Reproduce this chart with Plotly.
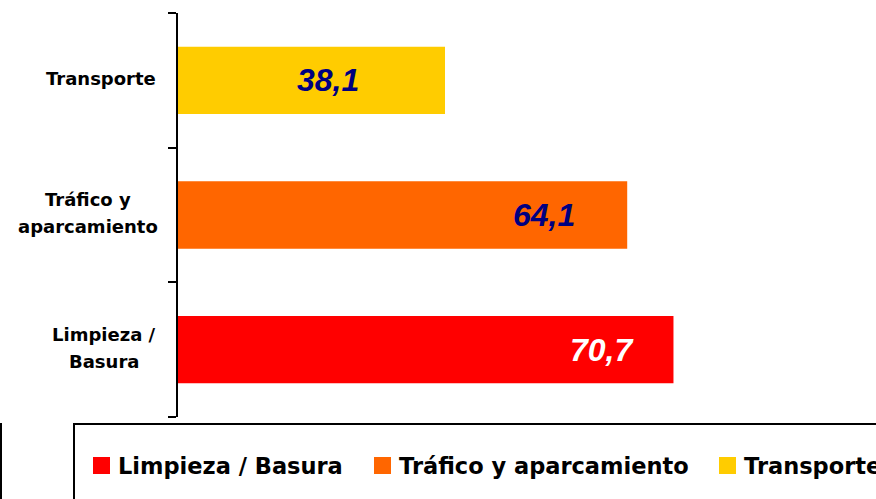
import plotly.graph_objects as go

# ---- data ----
categories = ["Limpieza / Basura", "Tráfico y aparcamiento", "Transporte"]
axis_label_lines = [["Limpieza /", "Basura"], ["Tráfico y", "aparcamiento"], ["Transporte"]]
values = [70.7, 64.1, 38.1]
value_labels = ["70,7", "64,1", "38,1"]

# ---- style ----
bar_colors = ["#FF0000", "#FF6600", "#FFCC00"]
label_colors = ["#FFFFFF", "#000080", "#000080"]
label_center_gap_px = [71, 83.5, 117.5]   # distance from bar end to label centre
axis_label_center_px = [104, 87.5, 101]
legend_square_px = [93, 374, 719]

W_FIG, H_FIG = 876, 499
L, T, R, B = 178, 13, 0, 82
PW, PH = W_FIG - L - R, H_FIG - T - B


def px_x(px):
    return (px - L) / PW


def px_y(py):
    return (T + PH - py) / PH


fig = go.Figure()
fig.add_trace(go.Bar(
    y=categories, x=values, orientation="h",
    marker=dict(color=bar_colors, line=dict(width=0)),
    width=0.5, showlegend=False, hoverinfo="skip",
))

annotations = []
# value labels
for cat, v, txt, col, gap in zip(categories, values, value_labels, label_colors, label_center_gap_px):
    annotations.append(dict(
        x=v, y=cat, xref="x", yref="y", text=txt, showarrow=False,
        xanchor="center", yanchor="middle", xshift=-gap, yshift=0,
        font=dict(family="Liberation Sans", size=32, color=col, weight="bold", style="italic"),
    ))

# category labels (centred lines)
line_step = 27
for cat, lines, cx in zip(categories, axis_label_lines, axis_label_center_px):
    n = len(lines)
    for i, ln in enumerate(lines):
        shift = 2 + ((n - 1) / 2 - i) * line_step
        annotations.append(dict(
            x=px_x(cx), y=cat, xref="paper", yref="y", text=ln, showarrow=False,
            xanchor="center", yanchor="middle", yshift=shift,
            font=dict(family="DejaVu Sans", size=18, color="#000000", weight="bold"),
        ))

shapes = []
# legend box (extends past the figure edge) and outer frame edge
shapes.append(dict(type="rect", xref="paper", yref="paper",
                   x0=px_x(74), x1=px_x(920), y0=px_y(424), y1=px_y(540),
                   line=dict(color="#000000", width=2), fillcolor="rgba(0,0,0,0)"))
shapes.append(dict(type="line", xref="paper", yref="paper",
                   x0=px_x(1), x1=px_x(1), y0=px_y(423), y1=px_y(540),
                   line=dict(color="#000000", width=2)))

# legend entries
for cat, col, sx in zip(categories, bar_colors, legend_square_px):
    shapes.append(dict(type="rect", xref="paper", yref="paper",
                       x0=px_x(sx), x1=px_x(sx + 17), y0=px_y(474), y1=px_y(457),
                       line=dict(width=0), fillcolor=col))
    annotations.append(dict(
        x=px_x(sx + 23), y=px_y(466), xref="paper", yref="paper", text=cat,
        showarrow=False, xanchor="left", yanchor="middle",
        font=dict(family="DejaVu Sans", size=22.5, color="#000000", weight="bold"),
    ))

fig.update_layout(
    width=W_FIG, height=H_FIG,
    margin=dict(l=L, r=R, t=T, b=B, pad=0),
    paper_bgcolor="#FFFFFF", plot_bgcolor="#FFFFFF",
    bargap=0.5,
    xaxis=dict(range=[0, 99.6], showgrid=False, zeroline=False, showline=False,
               showticklabels=False, ticks=""),
    yaxis=dict(categoryorder="array", categoryarray=categories,
               range=[-0.5, 2.5], showgrid=False, zeroline=False,
               showline=True, linecolor="#000000", linewidth=2,
               ticks="outside", ticklen=8, tickwidth=2, tickcolor="#000000",
               tickmode="array", tickvals=[-0.5, 0.5, 1.5, 2.5],
               ticktext=["", "", "", ""], showticklabels=False),
    annotations=annotations,
    shapes=shapes,
)

fig.write_html(
    "out.html",
    config={"displayModeBar": False},
    post_script="document.body.style.margin='0';document.body.style.overflow='hidden';",
)
